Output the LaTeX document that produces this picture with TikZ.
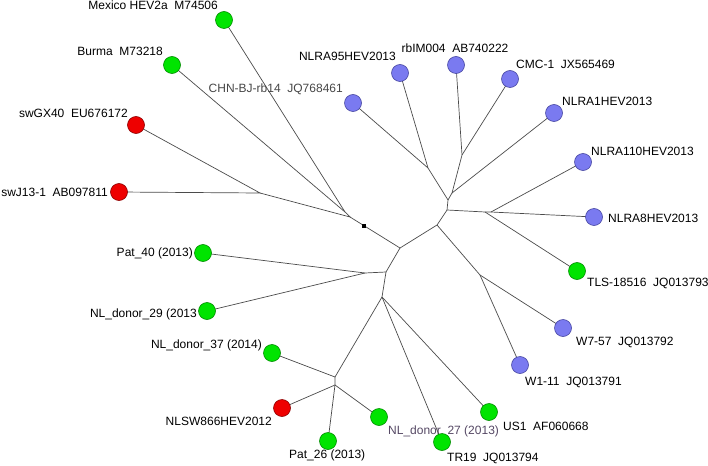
\documentclass[tikz,border=0pt]{standalone}
\usepackage{fontspec}
\setmainfont{Liberation Sans}
\definecolor{leafgreen}{RGB}{0,228,0}
\definecolor{leafgreenline}{RGB}{0,140,0}
\definecolor{leafblue}{RGB}{122,122,240}
\definecolor{leafblueline}{RGB}{70,70,160}
\definecolor{leafred}{RGB}{238,0,0}
\definecolor{leafredline}{RGB}{140,0,0}
\definecolor{branchgray}{RGB}{75,75,75}
\definecolor{graytext}{RGB}{70,70,70}
\definecolor{mauvetext}{RGB}{85,72,100}

\begin{document}
\begin{tikzpicture}[x=1pt,y=-1pt,
  every node/.style={font=\fontsize{12}{14}\selectfont},
  lbl/.style={inner sep=0pt},
  leaf/.style={circle,draw,minimum size=17pt,inner sep=0pt,line width=0.6pt},
  gleaf/.style={leaf,fill=leafgreen,draw=leafgreenline},
  bleaf/.style={leaf,fill=leafblue,draw=leafblueline},
  rleaf/.style={leaf,fill=leafred,draw=leafredline},
  branch/.style={draw=branchgray,line width=0.7pt}]
\useasboundingbox (0,0) rectangle (708,465);

% tips
\coordinate (mex) at (224,20);
\coordinate (bur) at (172,65);
\coordinate (gx) at (136,125);
\coordinate (j13) at (119,192);
\coordinate (chn) at (353,103);
\coordinate (r95) at (400,73);
\coordinate (rbim) at (456,65);
\coordinate (cmc) at (510,79);
\coordinate (r1) at (554,113);
\coordinate (r110) at (583,162);
\coordinate (r8) at (594,217);
\coordinate (tls) at (577,271);
\coordinate (w757) at (563,328);
\coordinate (w111) at (520,365);
\coordinate (us1) at (489,412);
\coordinate (tr19) at (442,442);
\coordinate (d27) at (379,417);
\coordinate (p26) at (328,441);
\coordinate (sw866) at (282,408);
\coordinate (d37) at (272,353);
\coordinate (d29) at (207,311);
\coordinate (p40) at (203,253);

% inner nodes
\coordinate (na) at (260,193);
\coordinate (nc) at (345,212);
\coordinate (nb) at (350,217);
\coordinate (nd) at (400,248);
\coordinate (ne) at (437,225);
\coordinate (nf) at (447,210);
\coordinate (nh) at (448,200);
\coordinate (nj) at (428,168);
\coordinate (nk) at (452,193);
\coordinate (nl) at (462,155);
\coordinate (ni) at (485,212);
\coordinate (ni2) at (491,212);
\coordinate (nm) at (480,275);
\coordinate (ng) at (386,272);
\coordinate (nn) at (365,273);
\coordinate (no) at (382,297);
\coordinate (np) at (335,377);
\coordinate (nq) at (335,385);

% labels
\node[lbl,anchor=base east] (lmex) at (218,9.5) {Mexico HEV2a~~M74506};
\node[lbl,anchor=base east] (lbur) at (163,56) {Burma~~M73218};
\node[lbl,anchor=base east,text=graytext] (lchn) at (343,93) {CHN-BJ-rb14~~JQ768461};
\node[lbl,anchor=base east] (lgx) at (128,117.5) {swGX40~~EU676172};
\node[lbl,anchor=base east] (lj13) at (108,196) {swJ13-1~~AB097811};
\node[lbl,anchor=base east] (lr95) at (396,61) {NLRA95HEV2013};
\node[lbl,anchor=base] (lrbim) at (455,52.5) {rbIM004~~AB740222};
\node[lbl,anchor=base west] (lcmc) at (516,69) {CMC-1~~JX565469};
\node[lbl,anchor=base west] (lr1) at (562,106) {NLRA1HEV2013};
\node[lbl,anchor=base west] (lr110) at (591,155) {NLRA110HEV2013};
\node[lbl,anchor=base west] (lr8) at (608,222) {NLRA8HEV2013};
\node[lbl,anchor=base west] (ltls) at (587,286.5) {TLS-18516~~JQ013793};
\node[lbl,anchor=base west] (lw757) at (576,345) {W7-57~~JQ013792};
\node[lbl,anchor=base west] (lw111) at (525,385.5) {W1-11~~JQ013791};
\node[lbl,anchor=base west] (lus1) at (503,430) {US1~~AF060668};
\node[lbl,anchor=base west,text=mauvetext] (ld27) at (388,434) {NL\_donor\_27 (2013)};
\node[lbl,anchor=base west] (ltr19) at (447,461.5) {TR19~~JQ013794};
\node[lbl,anchor=base west] (lp26) at (289,458) {Pat\_26 (2013)};
\node[lbl,anchor=base east] (lsw866) at (272,425) {NLSW866HEV2012};
\node[lbl,anchor=base east] (ld37) at (262,348) {NL\_donor\_37 (2014)};
\node[lbl,anchor=base east] (ld29) at (197,317) {NL\_donor\_29 (2013};
\node[lbl,anchor=base east] (lp40) at (193,256.5) {Pat\_40 (2013)};

% branches
\draw[branch] (j13) -- (na) -- (gx);
\draw[branch] (na) -- (nb) -- (nc) -- (mex);
\draw[branch] (nc) -- (bur);
\draw[branch] (nb) -- (nd) -- (ne) -- (nf) -- (nh) -- (nj) -- (r95);
\draw[branch] (nj) -- (chn);
\draw[branch] (nh) -- (nk) -- (nl) -- (rbim);
\draw[branch] (nl) -- (cmc);
\draw[branch] (nk) -- (r1);
\draw[branch] (nf) -- (ni) -- (ni2) -- (r8);
\draw[branch] (ni) -- (tls);
\draw[branch] (ni2) -- (r110);
\draw[branch] (ne) -- (nm) -- (w757);
\draw[branch] (nm) -- (w111);
\draw[branch] (nd) -- (ng) -- (nn) -- (p40);
\draw[branch] (nn) -- (d29);
\draw[branch] (ng) -- (no) -- (tr19);
\draw[branch] (no) -- (us1);
\draw[branch] (no) -- (np) -- (d37);
\draw[branch] (np) -- (nq) -- (sw866);
\draw[branch] (nq) -- (p26);
\draw[branch] (nq) -- (d27);

\node[fill=black,inner sep=0pt,minimum size=3.5pt] (root) at (364,226) {};

% leaves
\node[gleaf] (cmex) at (mex) {};
\node[gleaf] (cbur) at (bur) {};
\node[rleaf] (cgx) at (gx) {};
\node[rleaf] (cj13) at (j13) {};
\node[bleaf] (cchn) at (chn) {};
\node[bleaf] (cr95) at (r95) {};
\node[bleaf] (crbim) at (rbim) {};
\node[bleaf] (ccmc) at (cmc) {};
\node[bleaf] (cr1) at (r1) {};
\node[bleaf] (cr110) at (r110) {};
\node[bleaf] (cr8) at (r8) {};
\node[gleaf] (ctls) at (tls) {};
\node[bleaf] (cw757) at (w757) {};
\node[bleaf] (cw111) at (w111) {};
\node[gleaf] (cus1) at (us1) {};
\node[gleaf] (ctr19) at (tr19) {};
\node[gleaf] (cd27) at (d27) {};
\node[gleaf] (cp26) at (p26) {};
\node[rleaf] (csw866) at (sw866) {};
\node[gleaf] (cd37) at (d37) {};
\node[gleaf] (cd29) at (d29) {};
\node[gleaf] (cp40) at (p40) {};
\end{tikzpicture}
\end{document}
